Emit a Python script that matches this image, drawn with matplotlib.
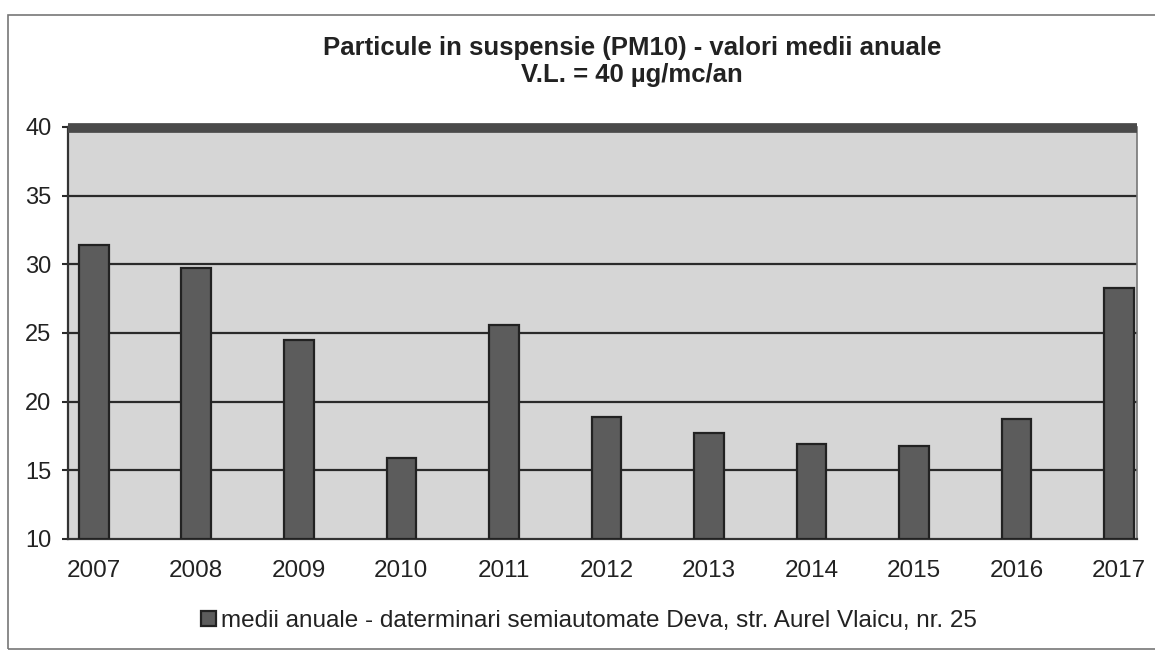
import matplotlib
matplotlib.use('Agg')
import matplotlib.pyplot as plt
from matplotlib.patches import Rectangle

# date PM10 - medii anuale
ani = ['2007', '2008', '2009', '2010', '2011', '2012', '2013', '2014', '2015', '2016', '2017']
medii = [31.4, 29.7, 24.5, 15.9, 25.6, 18.9, 17.7, 16.9, 16.8, 18.7, 28.3]
valoare_limita = 40
y_ticks = [10, 15, 20, 25, 30, 35, 40]

titlu1 = 'Particule in suspensie (PM10) - valori medii anuale'
titlu2 = 'V.L. = 40 µg/mc/an'
eticheta = 'medii anuale - daterminari semiautomate Deva, str. Aurel Vlaicu, nr. 25'

plt.rcParams['font.family'] = ['Liberation Sans', 'DejaVu Sans']

fig = plt.figure(figsize=(11.55, 6.54), dpi=100)
# chenarul exterior (dreapta iese din pagina)
fig.patches.append(Rectangle((8 / 1155, 5 / 654), 1.0, 634 / 654,
                             transform=fig.transFigure, fill=False,
                             edgecolor='#777777', linewidth=1.2))

ax = fig.add_axes([0.059, 0.176, 0.925, 0.630])
ax.set_facecolor('#d6d6d6')

x = list(range(len(ani)))
ax.bar(x, [v - 10 for v in medii], bottom=10, width=0.29,
       color='#5c5c5c', edgecolor='#222222', linewidth=1.6,
       label=eticheta, zorder=3)

for t in y_ticks[1:-1]:
    ax.axhline(t, color='#2a2a2a', linewidth=1.6, zorder=2)
ax.axhline(valoare_limita - 0.1, color='#4a4a4a', linewidth=7, zorder=4,
           clip_on=False, solid_capstyle='butt')

ax.set_xlim(-0.25, 10.17)
ax.set_ylim(10, 40)
ax.set_yticks(y_ticks)
ax.set_xticks(x)
ax.set_xticklabels(ani)
ax.tick_params(axis='y', labelsize=17, length=4, width=1.5, color='#2a2a2a', pad=8, labelcolor='#222222')
ax.tick_params(axis='x', labelsize=17.5, length=0, pad=15, labelcolor='#222222')

for s in ['left', 'bottom']:
    ax.spines[s].set_color('#333333')
    ax.spines[s].set_linewidth(1.6)
ax.spines['right'].set_color('#777777')
ax.spines['right'].set_linewidth(1.2)
ax.spines['top'].set_visible(False)

fig.text(0.547, 0.926, titlu1, ha='center', va='center', fontsize=18.5, fontweight='bold', color='#222222')
fig.text(0.547, 0.885, titlu2, ha='center', va='center', fontsize=18.5, fontweight='bold', color='#222222')

fig.legend(loc='center', bbox_to_anchor=(0.510, 0.050), frameon=False,
           fontsize=17.5, handlelength=0.6, handleheight=0.6, handletextpad=0.2,
           labelcolor='#222222')

plt.savefig('out.png', dpi=100)
